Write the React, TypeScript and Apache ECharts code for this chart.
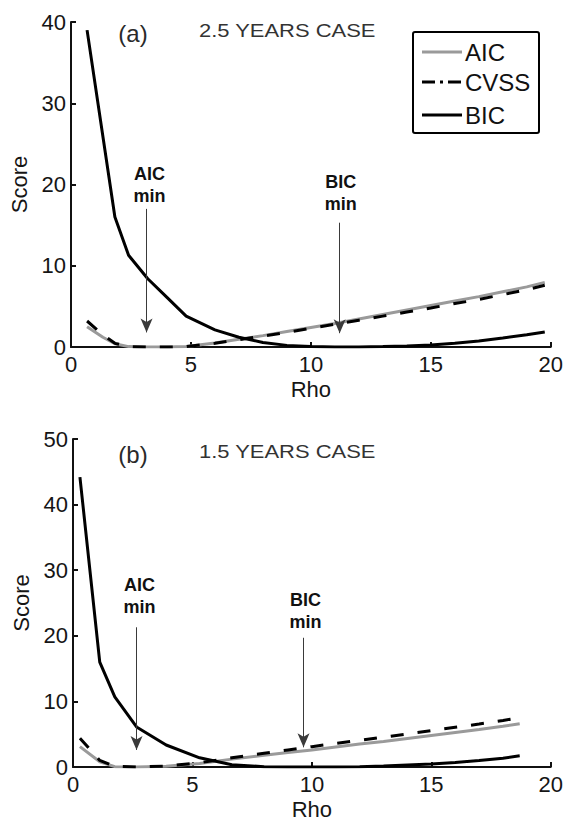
import React, { useEffect, useRef } from "react";
import * as echarts from "echarts";

// Panel (a): 2.5 years case
const rhoA = [0.67, 1.33, 1.83, 2.4, 3.2, 4, 4.8, 6, 7, 8, 9, 10, 11, 12, 13, 14, 15, 16, 17, 18, 19, 19.75];
const aicA = [2.5, 1.2, 0.4, 0.05, 0, 0, 0.05, 0.5, 0.95, 1.4, 1.9, 2.4, 2.9, 3.45, 4, 4.55, 5.1, 5.65, 6.2, 6.8, 7.4, 7.95];
const cvssA = [3.2, 1.5, 0.45, 0.05, 0, 0, 0.05, 0.45, 0.9, 1.35, 1.8, 2.3, 2.8, 3.3, 3.8, 4.3, 4.8, 5.35, 5.85, 6.45, 7.05, 7.6];
const bicA = [39, 25.9, 16, 11.3, 8.4, 6.1, 3.8, 2.1, 1.2, 0.55, 0.2, 0.05, 0, 0, 0.05, 0.12, 0.25, 0.45, 0.75, 1.1, 1.5, 1.85];

// Panel (b): 1.5 years case
const rhoB = [0.29, 1.12, 1.75, 2.66, 3.9, 5.3, 6.65, 8, 9, 10, 11, 12, 13, 14, 15, 16, 17, 18, 18.7];
const aicB = [3.1, 0.8, 0.05, 0, 0.1, 0.55, 1.2, 1.8, 2.2, 2.6, 3.05, 3.5, 3.9, 4.35, 4.8, 5.25, 5.7, 6.2, 6.6];
const cvssB = [4.4, 1.0, 0.1, 0, 0.15, 0.65, 1.4, 2.1, 2.6, 3.1, 3.6, 4.05, 4.55, 5.05, 5.55, 6.05, 6.55, 7.1, 7.5];
const bicB = [44.2, 16, 10.7, 6.1, 3.35, 1.4, 0.35, 0.05, 0, 0, 0, 0.05, 0.15, 0.3, 0.45, 0.7, 1.0, 1.35, 1.7];

// Axis ranges and ticks
const xTicks = [0, 5, 10, 15, 20];
const yMaxA = 40;
const yMaxB = 50;

// Minimum markers: [rho, arrow top, arrow tip]
const aicMinA = [3.15, 17, 1.8];
const bicMinA = [11.2, 15.3, 1.7];
const aicMinB = [2.66, 21.3, 2.6];
const bicMinB = [9.65, 19.7, 3.0];
// Marker label centres: [rho, score]
const aicLabelA = [3.27, 20.0];
const bicLabelA = [11.25, 18.9];
const aicLabelB = [2.78, 26.1];
const bicLabelB = [9.73, 23.8];

const panelTitles = ["(a)", "(b)"];
const caseTitles = ["2.5 YEARS CASE", "1.5 YEARS CASE"];
const legendNames = ["AIC", "CVSS", "BIC"];

const FONT = "'Liberation Sans', Arial, Helvetica, sans-serif";
const GRAY = "#9a9a9a";

const zip = (xs: number[], ys: number[]) => xs.map((x, i) => [x, ys[i]]);

function axisBase() {
  return {
    axisLine: { show: true, onZero: false, lineStyle: { color: "#111", width: 2 } },
    axisTick: { show: true, inside: true, length: 5, lineStyle: { color: "#111", width: 2 } },
    splitLine: { show: false },
    axisLabel: { fontSize: 22, color: "#151515", fontFamily: FONT },
    nameTextStyle: { fontSize: 22, color: "#151515", fontFamily: FONT },
  };
}

function arrow(m: number[]) {
  return {
    silent: true,
    symbol: ["none", "arrow"],
    symbolSize: [9, 14],
    label: { show: false },
    lineStyle: { color: "#3a3a3a", width: 1, type: "solid" },
    emphasis: { disabled: true },
    data: [[{ coord: [m[0], m[1]] }, { coord: [m[0], m[2]] }]],
  };
}

function minLabel(pos: number[], text: string) {
  return {
    silent: true,
    symbol: "circle",
    symbolSize: 0,
    label: {
      show: true,
      position: "inside",
      formatter: text,
      fontSize: 18,
      fontWeight: "bold",
      lineHeight: 22,
      color: "#111",
      fontFamily: FONT,
    },
    data: [{ coord: pos }],
  };
}

function panelSeries(
  idx: number,
  rho: number[],
  aic: number[],
  cvss: number[],
  bic: number[],
  aicMin: number[],
  bicMin: number[],
  aicLabel: number[],
  bicLabel: number[]
) {
  return [
    {
      name: legendNames[0],
      type: "line",
      xAxisIndex: idx,
      yAxisIndex: idx,
      data: zip(rho, aic),
      showSymbol: false,
      symbol: "none",
      lineStyle: { color: GRAY, width: 3 },
      z: 2,
    },
    {
      name: legendNames[1],
      type: "line",
      xAxisIndex: idx,
      yAxisIndex: idx,
      data: zip(rho, cvss),
      showSymbol: false,
      symbol: "none",
      lineStyle: { color: "#000", width: 3, type: [13, 14] },
      z: 3,
      markLine: arrow(aicMin),
      markPoint: minLabel(aicLabel, "AIC\nmin"),
    },
    {
      name: legendNames[2],
      type: "line",
      xAxisIndex: idx,
      yAxisIndex: idx,
      data: zip(rho, bic),
      showSymbol: false,
      symbol: "none",
      lineStyle: { color: "#000", width: 3 },
      z: 4,
      markLine: arrow(bicMin),
      markPoint: minLabel(bicLabel, "BIC\nmin"),
    },
  ];
}

function titleGraphics(i: number, cy: number) {
  return [
    {
      type: "text",
      x: 133,
      y: cy + 2,
      style: {
        text: panelTitles[i],
        font: `24px ${FONT}`,
        fill: "#2a2a2a",
        textAlign: "center",
        textVerticalAlign: "middle",
      },
    },
    {
      type: "text",
      x: 199,
      y: cy,
      scaleX: 1.22,
      style: {
        text: caseTitles[i],
        font: `18px ${FONT}`,
        fill: "#333",
        textAlign: "left",
        textVerticalAlign: "middle",
      },
    },
  ];
}

function legendGraphics() {
  const rows = [52, 82, 115];
  const styles = [
    { stroke: GRAY, lineWidth: 3 },
    { stroke: "#000", lineWidth: 3, lineDash: [13, 5, 3, 5] },
    { stroke: "#000", lineWidth: 3 },
  ];
  const items: any[] = [
    {
      type: "rect",
      shape: { x: 413, y: 32, width: 126, height: 101, r: 2 },
      style: { fill: "#fff", stroke: "#000", lineWidth: 2 },
      z: 10,
    },
  ];
  rows.forEach((y, i) => {
    items.push({
      type: "line",
      shape: { x1: 422, y1: y, x2: 462, y2: y },
      style: styles[i],
      z: 11,
    });
    items.push({
      type: "text",
      x: 465,
      y: y,
      style: {
        text: legendNames[i],
        font: `24px ${FONT}`,
        fill: "#111",
        textAlign: "left",
        textVerticalAlign: "middle",
      },
      z: 11,
    });
  });
  return items;
}

export default function App() {
  const ref = useRef<HTMLDivElement>(null);

  useEffect(() => {
    if (!ref.current) return;
    const chart = echarts.init(ref.current, null, { renderer: "svg" });
    const base = axisBase();
    chart.setOption({
      animation: false,
      backgroundColor: "#fff",
      textStyle: { fontFamily: FONT },
      grid: [
        { left: 71, top: 22, width: 482, height: 325 },
        { left: 73, top: 439, width: 481, height: 328 },
      ],
      xAxis: [0, 1].map((g) => ({
        ...base,
        type: "value",
        gridIndex: g,
        min: xTicks[0],
        max: xTicks[xTicks.length - 1],
        interval: 5,
        name: "Rho",
        nameLocation: "middle",
        nameGap: 31,
        axisLabel: { ...base.axisLabel, margin: 6 },
      })),
      yAxis: [yMaxA, yMaxB].map((mx, g) => ({
        ...base,
        type: "value",
        gridIndex: g,
        min: 0,
        max: mx,
        interval: 10,
        name: "Score",
        nameLocation: "middle",
        nameGap: 41,
        axisLabel: { ...base.axisLabel, margin: 5 },
      })),
      series: [
        ...panelSeries(0, rhoA, aicA, cvssA, bicA, aicMinA, bicMinA, aicLabelA, bicLabelA),
        ...panelSeries(1, rhoB, aicB, cvssB, bicB, aicMinB, bicMinB, aicLabelB, bicLabelB),
      ],
      graphic: [...titleGraphics(0, 31), ...titleGraphics(1, 452), ...legendGraphics()],
    });
    return () => chart.dispose();
  }, []);

  return (
    <div
      ref={ref}
      style={{ position: "fixed", left: 0, top: 0, width: 566, height: 821, background: "#fff" }}
    />
  );
}
